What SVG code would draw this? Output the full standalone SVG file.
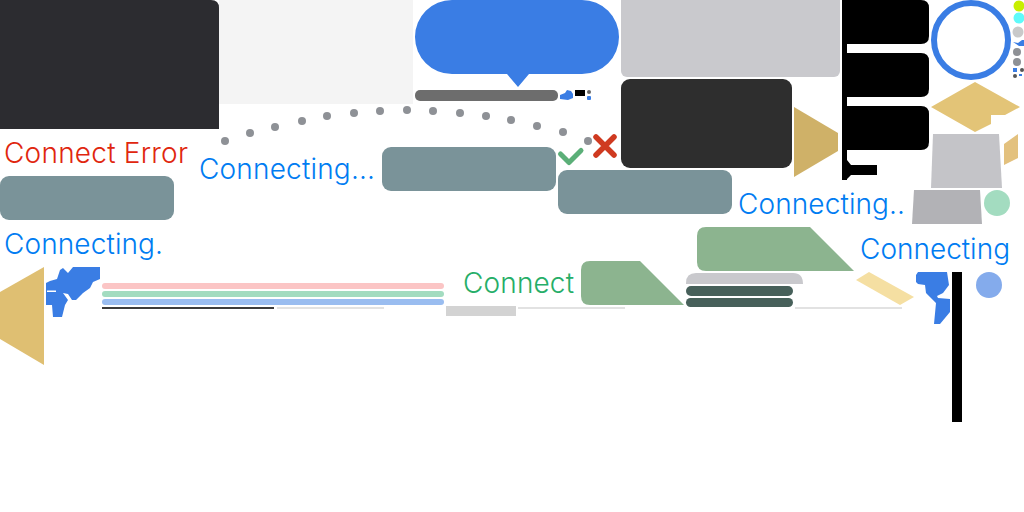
<svg xmlns="http://www.w3.org/2000/svg" width="1024" height="512" viewBox="0 0 1024 512">
<style>
.t{font-family:"Inter","Noto Sans","Liberation Sans",sans-serif;font-size:28px;font-weight:350;fill:#007cf2}
.slate{fill:#7a9399}
.tan{fill:#e3c477}
.blue{fill:#3a7de4}
.green{fill:#8cb48f}
.line{fill:#e2e2e2}
.dot{fill:#8e9196}
.dark{fill:#47605a}
</style>
<g id="panels">
<path d="M0 0H211Q219 0 219 8V129H0Z" fill="#2c2c30"/>
<rect x="219" y="0" width="194" height="104" fill="#f4f4f4"/>
<path class="blue" d="M452 0H582A37 37 0 0 1 582 74H529L518 87L507 74H452A37 37 0 0 1 452 0Z"/>
<rect x="415" y="90" width="143" height="11" rx="5" fill="#6d6d6d"/>
<rect x="621" y="-8" width="219" height="85" rx="6" fill="#c9c9cd"/>
<rect x="621" y="79" width="171" height="89" rx="9" fill="#2e2e2e"/>
<path d="M794 107L838 133V151L794 177Z" fill="#cfb168"/>
</g>
<g id="black-stack">
<rect x="842" y="0" width="5" height="180"/>
<path d="M842 0H921Q929 0 929 8V36Q929 44 921 44H842Z"/>
<path d="M847 53H921Q929 53 929 61V89Q929 97 921 97H847Z"/>
<path d="M847 106H921Q929 106 929 114V142Q929 150 921 150H847Z"/>
<path d="M847 160L851 165H877V175H851L846 180H842V160Z"/>
</g>
<g id="ring"><circle cx="971" cy="40" r="37" fill="#fff" stroke="#3a7de4" stroke-width="6"/></g>
<g id="swatches">
<circle cx="1019" cy="6" r="5.5" fill="#c8ee00"/>
<circle cx="1019" cy="18" r="5.5" fill="#5ffafa"/>
<circle cx="1018" cy="32" r="5.5" fill="#c9c9c9"/>
<path class="blue" d="M1013 42L1018 43L1022 40H1024V46L1019 46Z"/>
<circle class="dot" cx="1017" cy="52" r="4"/>
<circle class="dot" cx="1017" cy="62" r="4"/>
<rect class="blue" x="1013" y="68" width="4" height="4"/>
<circle cx="1022" cy="70" r="2" fill="#555"/>
<circle cx="1015" cy="76" r="2" fill="#555"/>
<rect class="blue" x="1019" y="74" width="3" height="2"/>
</g>
<g id="tan-shapes">
<path class="tan" d="M975 82L1020 107L1005 115H991V124L975 132L931 107Z"/>
<path d="M1004 144L1018 134V158L1004 165Z" fill="#e3c17e"/>
<path d="M933 134H999L1002 188H931Z" fill="#c4c4c8"/>
<path d="M914 190H980L982 224H912Z" fill="#b2b2b6"/>
<circle cx="997" cy="203" r="13" fill="#a3dcc0"/>
</g>
<g id="status">
<text class="t" x="4" y="163" textLength="184" style="fill:#e0260e">Connect Error</text>
<text class="t" x="199" y="179" textLength="176">Connecting...</text>
<text class="t" x="738" y="214" textLength="167">Connecting..</text>
<text class="t" x="4" y="254" textLength="159">Connecting.</text>
<text class="t" x="860" y="259" textLength="150">Connecting</text>
<text class="t" x="463" y="293" textLength="111" style="fill:#26ae68">Connect</text>
</g>
<g id="slate-bars">
<rect class="slate" x="0" y="176" width="174" height="44" rx="9"/>
<rect class="slate" x="382" y="147" width="174" height="44" rx="9"/>
<rect class="slate" x="558" y="170" width="174" height="44" rx="9"/>
</g>
<g id="dots">
<circle class="dot" cx="225" cy="141" r="4"/><circle class="dot" cx="250" cy="133" r="4"/><circle class="dot" cx="275" cy="127" r="4"/><circle class="dot" cx="302" cy="121" r="4"/><circle class="dot" cx="327" cy="116" r="4"/><circle class="dot" cx="354" cy="113" r="4"/><circle class="dot" cx="380" cy="111" r="4"/><circle class="dot" cx="407" cy="110" r="4"/><circle class="dot" cx="433" cy="111" r="4"/><circle class="dot" cx="460" cy="113" r="4"/><circle class="dot" cx="486" cy="116" r="4"/><circle class="dot" cx="511" cy="120" r="4"/><circle class="dot" cx="537" cy="126" r="4"/><circle class="dot" cx="563" cy="132" r="4"/><circle class="dot" cx="588" cy="141" r="4"/>
</g>
<g id="icons">
<path d="M560.500 154L569 162.500L581 150.500" fill="none" stroke="#5baf78" stroke-width="5" stroke-linecap="round" stroke-linejoin="round"/>
<path d="M596 137L614 155M614 137L596 155" fill="none" stroke="#cf3a20" stroke-width="5.500" stroke-linecap="round"/>
<path class="blue" d="M560 95L565 93L567 90L571 91L573 94V98L568 100L560 99Z"/>
<rect x="575" y="90" width="10" height="6"/>
<circle cx="589" cy="92" r="2" fill="#666"/>
<rect class="blue" x="587" y="96" width="4" height="4" rx="1"/>
</g>
<g id="left-shapes">
<path d="M44 267V365L0 339V292Z" fill="#dfbf72"/>
<path class="blue" d="M46 283L50 281L57 279L60 270L63 268L68 273L73 267H100V279L93 282L90 288L83 293L76 300H72L68 294L63 293L68 300L65 305L62 317H53L52 305H46Z"/>
<rect x="47" y="290.500" width="9" height="1.500" fill="#fff"/>
<rect x="102" y="283" width="342" height="6" rx="3" fill="#fbc5c5"/>
<rect x="102" y="291" width="342" height="6" rx="3" fill="#a3dcc0"/>
<rect x="102" y="299" width="342" height="6" rx="3" fill="#9abdf0"/>
<rect x="102" y="307" width="172" height="2" fill="#3c3c3c"/>
<rect class="line" x="277" y="307" width="107" height="2"/>
<rect x="446" y="306" width="70" height="10" fill="#d3d3d3"/>
<rect class="line" x="518" y="307" width="107" height="2"/>
</g>
<g id="green-shapes">
<path class="green" d="M590 261H640L684 305H590Q581 305 581 296V270Q581 261 590 261Z"/>
<path class="green" d="M706 227H810L854 271H706Q697 271 697 262V236Q697 227 706 227Z"/>
<path d="M686 284V283Q686 273 696 273H793Q803 273 803 284Z" fill="#c9c9cd"/>
<rect class="dark" x="686" y="286" width="107" height="10" rx="5"/>
<rect class="dark" x="686" y="298" width="107" height="9" rx="4.500"/>
<rect class="line" x="795" y="307" width="107" height="2"/>
<path d="M869 272L914 297L900 305L856 280Z" fill="#f5dfa2"/>
</g>
<g id="right-shapes">
<path class="blue" d="M916 275L918 272H947L949 285L943 293L937 296L938 298L950 299V312L940 324H934L936 303L926 293L925 285L918 284L916 282Z"/>
<rect x="952" y="272" width="10" height="150"/>
<circle cx="989" cy="285" r="13" fill="#84abec"/>
</g>
</svg>
